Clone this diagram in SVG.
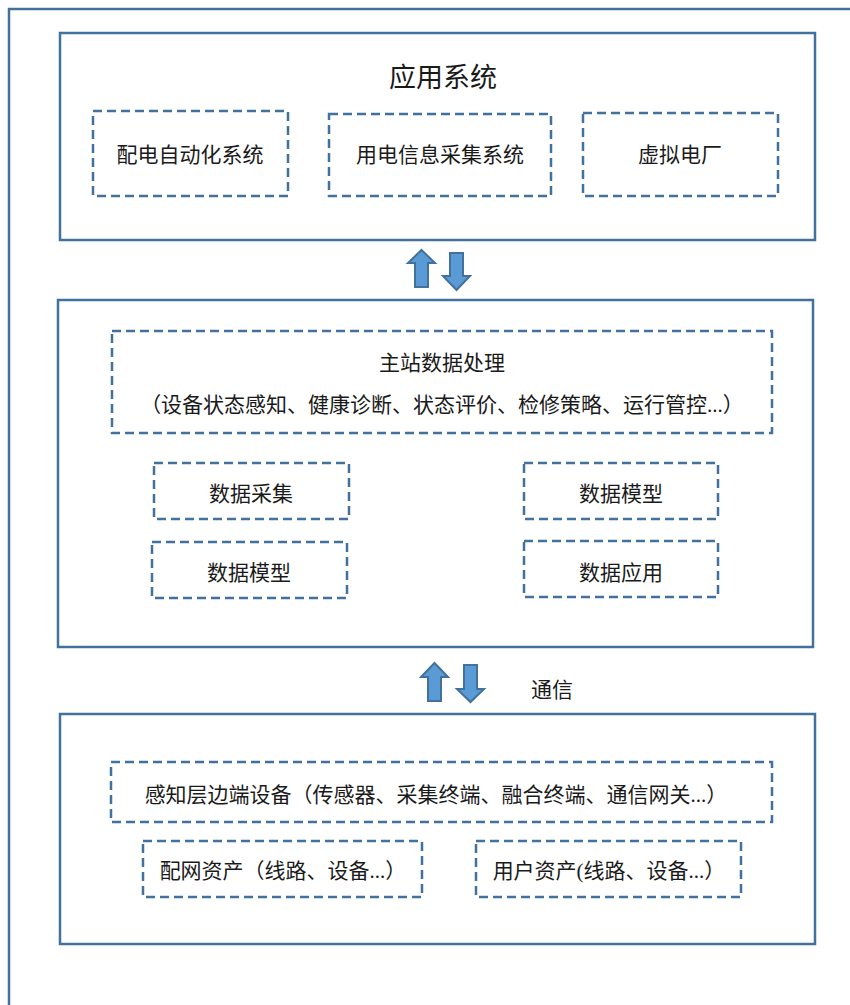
<svg xmlns="http://www.w3.org/2000/svg" width="850" height="1005" viewBox="0 0 850 1005">
<style>
.frame{fill:#fff;stroke:#41719C;stroke-width:2.5}
.box{fill:none;stroke:#41719C;stroke-width:2.5}
.dash{fill:none;stroke:#41719C;stroke-width:2.5;stroke-dasharray:9 5}
.arr{fill:#5B9BD5;stroke:#41719C;stroke-width:2}
text{font-family:"Liberation Serif","Noto Sans CJK SC",serif;fill:#1a1a1a;text-anchor:middle;dominant-baseline:central}
.t{font-size:21px}
.h{font-size:27px}
</style>
<rect width="850" height="1005" fill="#fff"/>
<rect class="frame" x="9" y="9" width="860" height="1010"/>
<g id="app">
<rect class="box" x="60" y="33" width="755" height="207"/>
<text class="h" x="443" y="78">应用系统</text>
</g>
<g id="app1"><rect class="dash" x="93" y="111" width="195" height="85"/><text class="t" x="190" y="155">配电自动化系统</text></g>
<g id="app2"><rect class="dash" x="329" y="114" width="222" height="82"/><text class="t" x="440" y="155">用电信息采集系统</text></g>
<g id="app3"><rect class="dash" x="583" y="113" width="195" height="83"/><text class="t" x="680" y="155">虚拟电厂</text></g>
<g id="master">
<rect class="box" x="58" y="300" width="755" height="347"/>
</g>
<g id="proc"><rect class="dash" x="112" y="331" width="660" height="102"/>
<text class="t" x="442" y="363">主站数据处理</text>
<text class="t" x="442" y="405">（设备状态感知、健康诊断、状态评价、检修策略、运行管控...）</text></g>
<g id="m1"><rect class="dash" x="154" y="463" width="195" height="56"/><text class="t" x="251" y="494">数据采集</text></g>
<g id="m2"><rect class="dash" x="152" y="542" width="195" height="56"/><text class="t" x="249" y="573">数据模型</text></g>
<g id="m3"><rect class="dash" x="524" y="463" width="194" height="56"/><text class="t" x="621" y="494">数据模型</text></g>
<g id="m4"><rect class="dash" x="524" y="541" width="194" height="56"/><text class="t" x="621" y="573">数据应用</text></g>
<g id="sense">
<rect class="box" x="60" y="714" width="755" height="230"/>
</g>
<g id="s1"><rect class="dash" x="111" y="762" width="661" height="60"/><text class="t" x="436" y="795">感知层边端设备（传感器、采集终端、融合终端、通信网关...）</text></g>
<g id="s2"><rect class="dash" x="143" y="841" width="279" height="56"/><text class="t" x="283" y="871">配网资产（线路、设备...）</text></g>
<g id="s3"><rect class="dash" x="476" y="841" width="265" height="56"/><text class="t" x="609" y="871">用户资产(线路、设备...）</text></g>
<g id="connectors">
<path class="arr" d="M421.5,250 L435,263 L428,263 L428,287 L415,287 L415,263 L408,263 Z"/>
<path class="arr" d="M450,253 L463,253 L463,276 L470,276 L456.5,290 L443,276 L450,276 Z"/>
<path class="arr" d="M434.5,663 L448,677 L441,677 L441,701 L428,701 L428,677 L421,677 Z"/>
<path class="arr" d="M464,665 L477,665 L477,689 L484,689 L470.5,702 L457,689 L464,689 Z"/>
<text class="t" x="552" y="690">通信</text>
</g>
</svg>
